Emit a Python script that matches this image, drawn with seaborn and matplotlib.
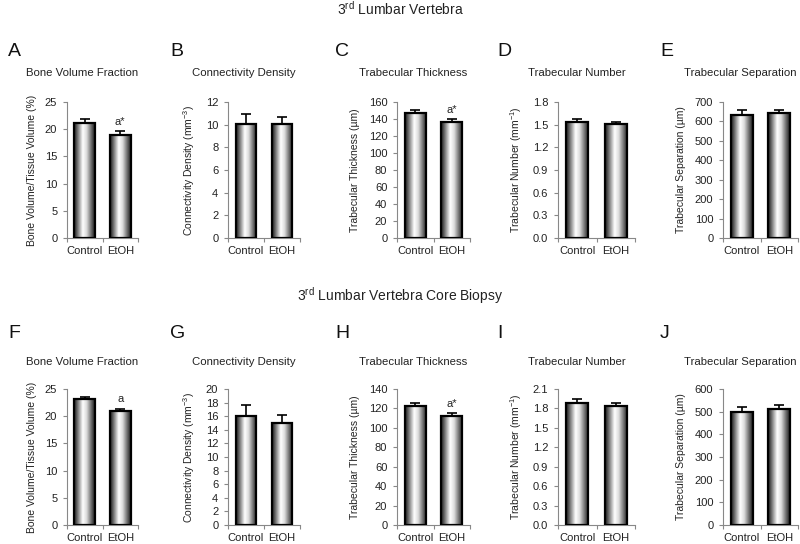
import numpy as np
import pandas as pd
import matplotlib
matplotlib.use("Agg")
import matplotlib.pyplot as plt
from matplotlib.colors import LinearSegmentedColormap
from matplotlib.ticker import MultipleLocator, FormatStrFormatter, FixedLocator
import seaborn as sns

# ---------------- data ----------------
groups = ["Control", "EtOH"]
letters = ["A", "B", "C", "D", "E", "F", "G", "H", "I", "J"]
titles = ["Bone Volume Fraction", "Connectivity Density", "Trabecular Thickness",
          "Trabecular Number", "Trabecular Separation"] * 2
ylabels = ["Bone Volume/Tissue Volume (%)",
           r"Connectivity Density (mm$\mathregular{^{-3}}$)",
           "Trabecular Thickness (µm)",
           r"Trabecular Number (mm$\mathregular{^{-1}}$)",
           "Trabecular Separation (µm)"] * 2
means_A = [21.2, 18.9]; sem_A = [0.7, 0.8]
means_B = [10.05, 10.1]; sem_B = [0.85, 0.6]
means_C = [147, 136]; sem_C = [4, 4]
means_D = [1.53, 1.51]; sem_D = [0.05, 0.03]
means_E = [632, 645]; sem_E = [25, 15]
means_F = [23.1, 20.9]; sem_F = [0.4, 0.5]
means_G = [16.0, 15.0]; sem_G = [1.6, 1.2]
means_H = [122, 112]; sem_H = [4, 3]
means_I = [1.88, 1.84]; sem_I = [0.07, 0.05]
means_J = [497, 512]; sem_J = [22, 16]
means = [means_A, means_B, means_C, means_D, means_E, means_F, means_G, means_H, means_I, means_J]
sems = [sem_A, sem_B, sem_C, sem_D, sem_E, sem_F, sem_G, sem_H, sem_I, sem_J]
annotations = ["a*", "", "a*", "", "", "a", "", "a*", "", ""]
ymax = [25, 12, 160, 1.8, 700, 25, 20, 140, 2.1, 600]
ystep = [5, 2, 20, 0.3, 100, 5, 2, 20, 0.3, 100]
yfmt = ["%d", "%d", "%d", "%.1f", "%d", "%d", "%d", "%d", "%.1f", "%d"]
row_titles = [r"3$^{\mathregular{rd}}$ Lumbar Vertebra",
              r"3$^{\mathregular{rd}}$ Lumbar Vertebra Core Biopsy"]

# ---------------- style ----------------
sns.set_theme(style="white")
plt.rcParams["font.family"] = ["Liberation Sans", "DejaVu Sans"]
plt.rcParams["mathtext.fontset"] = "custom"
plt.rcParams["mathtext.rm"] = "Liberation Sans"
plt.rcParams["mathtext.it"] = "Liberation Sans:italic"
plt.rcParams["mathtext.bf"] = "Liberation Sans:bold"

W, H = 800, 544
fig = plt.figure(figsize=(W / 100, H / 100), dpi=100)
fig.patch.set_facecolor("white")

cmap = LinearSegmentedColormap.from_list(
    "cyl", [(0.0, "#1a1a1a"), (0.12, "#555555"), (0.42, "#ffffff"),
            (0.6, "#dddddd"), (0.85, "#606060"), (1.0, "#1a1a1a")])
grad = np.linspace(0, 1, 256).reshape(1, -1)

lefts = [67, 228, 397, 558, 723]
widths = [71, 72, 73, 77, 75]
tops = [102, 389]
ax_h = 136
letter_x = [8, 170, 335, 497, 660]
letter_y = [52, 334]
title_y = [73, 362]
row_title_y = [9, 296]

def px(x, y):
    return x / W, 1 - y / H

for i in range(10):
    r, c = divmod(i, 5)
    l, w = lefts[c], widths[c]
    t = tops[r]
    ax = fig.add_axes([l / W, 1 - (t + ax_h) / H, w / W, ax_h / H])
    df = pd.DataFrame({"group": groups, "value": means[i]})
    sns.barplot(data=df, x="group", y="value", ax=ax, color="white",
                edgecolor="black", linewidth=1.6, width=0.58, errorbar=None)
    for p in ax.patches:
        x0, y0 = p.get_x(), p.get_y()
        x1, y1 = x0 + p.get_width(), y0 + p.get_height()
        p.set_facecolor("none")
        p.set_zorder(3)
        im = ax.imshow(grad, cmap=cmap, aspect="auto", extent=(x0, x1, y0, y1),
                       zorder=2, interpolation="bilinear")
        im.set_clip_path(p)
    ax.errorbar(x=[0, 1], y=means[i], yerr=[[0, 0], sems[i]], fmt="none",
                ecolor="black", elinewidth=1.2, capsize=3.5, capthick=1.2, zorder=4)
    if annotations[i]:
        ax.annotate(annotations[i], xy=(1, means[i][1] + sems[i][1]),
                    xytext=(0, 3), textcoords="offset points", ha="center",
                    va="bottom", fontsize=8, color="#222222")
    ax.set_xlim(-0.5, 1.5)
    ax.set_ylim(0, ymax[i])
    ax.yaxis.set_major_locator(MultipleLocator(ystep[i]))
    ax.yaxis.set_major_formatter(FormatStrFormatter(yfmt[i]))
    ax.xaxis.set_minor_locator(FixedLocator([-0.5, 0.5, 1.5]))
    ax.tick_params(axis="x", which="major", length=0, labelsize=8,
                   labelcolor="#222222", pad=6)
    ax.tick_params(axis="x", which="minor", length=3, width=0.8, color="#888888",
                   direction="out", bottom=True)
    ax.tick_params(axis="y", length=3, width=0.8, color="#888888", direction="out",
                   left=True, labelsize=8, labelcolor="#222222", pad=4)
    for s in ["top", "right"]:
        ax.spines[s].set_visible(False)
    for s in ["left", "bottom"]:
        ax.spines[s].set_color("#888888")
        ax.spines[s].set_linewidth(0.8)
    ax.set_xlabel("")
    ax.set_ylabel(ylabels[i], fontsize=7.5, color="#222222", labelpad=6)
    ax.set_facecolor("white")
    # panel title and letter
    fig.text(*px(l + w / 2 - 20, title_y[r]), titles[i], ha="center", va="center",
             fontsize=8.2, color="#222222")
    fig.text(*px(letter_x[c], letter_y[r]), letters[i], ha="left", va="center",
             fontsize=14, color="#111111")

for r in range(2):
    fig.text(*px(400, row_title_y[r]), row_titles[r], ha="center", va="center",
             fontsize=10, color="#222222")

fig.savefig("out.png", dpi=100, facecolor="white")
